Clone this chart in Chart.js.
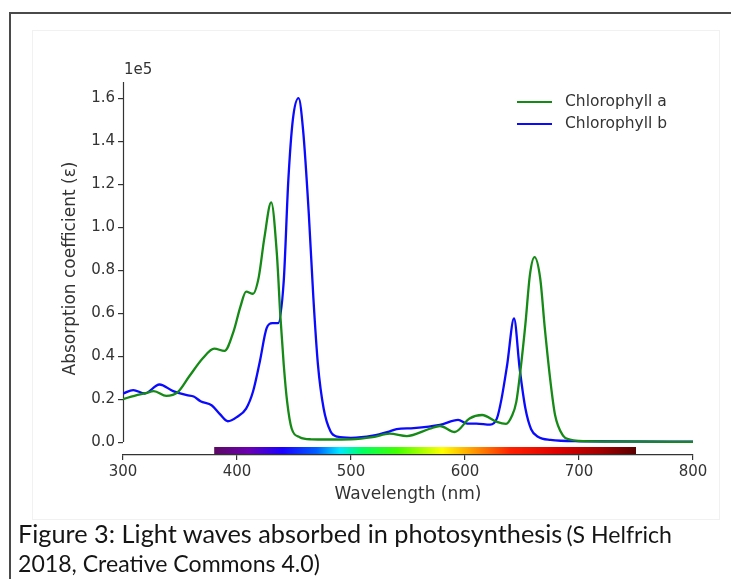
<!DOCTYPE html>
<html>
<head>
<meta charset="utf-8">
<script src="https://cdn.jsdelivr.net/npm/chart.js@4.4.1/dist/chart.umd.min.js"></script>
<style>
  html, body { margin: 0; padding: 0; background: #fff; }
  body { width: 731px; height: 579px; position: relative; overflow: hidden; }
  #frame { position: absolute; left: 9px; top: 12px; width: 760px; height: 620px; border: 2px solid #4a4a4a; box-sizing: border-box; }
  #inner { position: absolute; left: 32px; top: 30px; width: 686px; height: 488px; border: 1px solid #f1f1f1; }
  #wrap { position: absolute; left: 0; top: 0; width: 731px; height: 520px; }
  #caption { position: absolute; left: 18px; top: 520px; font-family: Lato, "Open Sans", sans-serif; color: #151515; line-height: 27px; white-space: nowrap; }
  #caption .big { font-size: 22px; }
  #caption .small { font-size: 17.5px; }
</style>
</head>
<body>
<div id="frame"></div>
<div id="inner"></div>
<div id="wrap"><canvas id="spectrum" width="731" height="520"></canvas></div>
<div id="caption">
  <span class="big" data-w="545">Figure 3: Light waves absorbed in photosynthesis</span> <span class="small">(S Helfrich</span><br>
  <span class="small" data-w="302">2018, Creative Commons 4.0)</span>
</div>
<script>
// wavelength (nm) and absorption (x1e5)
const chlAWavelength = [300, 310, 320, 327, 338, 348, 358, 370, 380, 389, 397, 403, 408, 414, 419, 424, 430, 435, 438, 441, 444, 448, 455, 465, 480, 500, 519, 534, 549, 569, 578, 591, 604, 615, 628, 636, 641, 645, 649, 653, 657, 661, 666, 670, 675, 679, 686, 692, 700, 750, 800];
const chlA = [0.200, 0.215, 0.228, 0.237, 0.215, 0.232, 0.305, 0.39, 0.435, 0.424, 0.515, 0.63, 0.70, 0.69, 0.765, 0.95, 1.115, 0.873, 0.59, 0.36, 0.187, 0.062, 0.023, 0.013, 0.012, 0.013, 0.023, 0.039, 0.028, 0.062, 0.075, 0.047, 0.11, 0.126, 0.094, 0.085, 0.12, 0.187, 0.35, 0.55, 0.78, 0.86, 0.76, 0.53, 0.28, 0.126, 0.03, 0.012, 0.006, 0.002, 0.001];

const chlBWavelength = [300, 309, 319, 332, 344, 356, 362, 368, 378, 385, 392, 400, 408, 414, 420, 426, 431, 436, 441, 445, 449, 454, 458, 463, 467, 471, 476, 482, 488, 500, 519, 534, 540, 555, 578, 594, 602, 610, 622, 628, 632, 637, 643, 648, 653, 658, 664, 675, 700, 800];
const chlB = [0.226, 0.242, 0.226, 0.268, 0.237, 0.218, 0.212, 0.19, 0.17, 0.13, 0.097, 0.117, 0.156, 0.234, 0.374, 0.53, 0.553, 0.553, 0.75, 1.216, 1.50, 1.60, 1.45, 1.06, 0.67, 0.36, 0.156, 0.05, 0.025, 0.02, 0.03, 0.05, 0.06, 0.065, 0.08, 0.103, 0.086, 0.086, 0.081, 0.11, 0.2, 0.36, 0.575, 0.34, 0.156, 0.06, 0.025, 0.01, 0.004, 0.002];

const seriesNames = ['Chlorophyll a', 'Chlorophyll b'];
const xTicks = [300, 400, 500, 600, 700, 800];
const yTicks = [0, 0.2, 0.4, 0.6, 0.8, 1.0, 1.2, 1.4, 1.6];

// visible-light colour bar under the curves
const spectrumStops = [
  [380, '#5c0a62'], [410, '#6a00b0'], [440, '#1a00ff'], [470, '#0060ff'], [490, '#00e8ff'],
  [510, '#00ff60'], [540, '#40ff00'], [580, '#ffff00'], [610, '#ff9000'], [640, '#ff2000'],
  [680, '#e00000'], [720, '#a00000'], [750, '#5a0000']
];

const FONT = 'DejaVu Sans';
const INK = '#333';

function pts(xs, ys) { return xs.map((x, i) => ({ x: x, y: ys[i] })); }

const extras = {
  id: 'extras',
  beforeDatasetsDraw(chart) {
    const { ctx, chartArea: a, scales: { x, y } } = chart;
    const x0 = x.getPixelForValue(spectrumStops[0][0]);
    const x1 = x.getPixelForValue(spectrumStops[spectrumStops.length - 1][0]);
    const g = ctx.createLinearGradient(x0, 0, x1, 0);
    spectrumStops.forEach(s => g.addColorStop((s[0] - 380) / 370, s[1]));
    ctx.save();
    ctx.fillStyle = g;
    ctx.fillRect(x0, a.bottom - 8, x1 - x0, 7);
    // y spine only down to zero, like the original
    ctx.strokeStyle = INK;
    ctx.lineWidth = 1.2;
    ctx.beginPath();
    const sx = Math.round(a.left) + 0.5;
    ctx.moveTo(sx, a.top);
    ctx.lineTo(sx, y.getPixelForValue(0));
    ctx.stroke();
    ctx.restore();
  },
  afterDraw(chart) {
    const { ctx, chartArea: a } = chart;
    ctx.save();
    ctx.font = '15px "' + FONT + '"';
    ctx.fillStyle = INK;
    ctx.textBaseline = 'middle';
    ctx.fillText('1e5', a.left + 1, a.top - 12);
    ctx.font = '15.5px "' + FONT + '"';
    chart.data.datasets.forEach((ds, i) => {
      const ly = a.top + 20 + i * 22;
      ctx.strokeStyle = ds.borderColor;
      ctx.lineWidth = 2;
      ctx.beginPath();
      ctx.moveTo(a.right - 176, ly);
      ctx.lineTo(a.right - 141, ly);
      ctx.stroke();
      ctx.fillText(ds.label, a.right - 128, ly);
    });
    ctx.restore();
  }
};

new Chart(document.getElementById('spectrum'), {
  type: 'line',
  data: {
    datasets: [
      { label: seriesNames[0], data: pts(chlAWavelength, chlA), borderColor: '#168a16', borderWidth: 2.3, pointRadius: 0, cubicInterpolationMode: 'monotone', fill: false },
      { label: seriesNames[1], data: pts(chlBWavelength, chlB), borderColor: '#0a0aff', borderWidth: 2.3, pointRadius: 0, cubicInterpolationMode: 'monotone', fill: false }
    ]
  },
  options: {
    responsive: false,
    animation: false,
    layout: { padding: { left: 0, right: 38, top: 82, bottom: 0 } },
    plugins: { legend: { display: false }, tooltip: { enabled: false } },
    scales: {
      x: {
        type: 'linear', min: 300, max: 800,
        afterBuildTicks: s => { s.ticks = xTicks.map(v => ({ value: v })); },
        afterFit: s => { s.height = 65; },
        border: { display: true, color: INK, width: 1.2 },
        grid: { drawOnChartArea: false, tickLength: 5, color: INK, lineWidth: 1.2 },
        ticks: { color: INK, font: { family: FONT, size: 15 }, padding: 3 },
        title: { display: true, text: 'Wavelength (nm)', color: INK, font: { family: FONT, size: 17 }, padding: { top: 0, bottom: 15 } }
      },
      y: {
        type: 'linear', min: -0.06, max: 1.675,
        afterBuildTicks: s => { s.ticks = yTicks.map(v => ({ value: v })); },
        afterFit: s => { s.width = 123; },
        border: { display: false },
        grid: { drawOnChartArea: false, tickLength: 5, color: INK, lineWidth: 1.2 },
        ticks: { color: INK, font: { family: FONT, size: 15 }, padding: 3, callback: v => v.toFixed(1) },
        title: { display: true, text: 'Absorption coefficient (\u03b5)', color: INK, font: { family: FONT, size: 17 }, padding: { top: 60, bottom: 0 } }
      }
    }
  },
  plugins: [extras]
});

// fit caption spans to the widths they have in the original
const mc = document.createElement('canvas').getContext('2d');
let smallSize = null;
document.querySelectorAll('#caption span[data-w]').forEach(sp => {
  const cs = getComputedStyle(sp);
  mc.font = cs.fontSize + ' ' + cs.fontFamily;
  const w = mc.measureText(sp.textContent).width;
  const size = (parseFloat(cs.fontSize) * sp.dataset.w / w).toFixed(2) + 'px';
  sp.style.fontSize = size;
  if (sp.classList.contains('small')) smallSize = size;
});
document.querySelectorAll('#caption .small').forEach(sp => { sp.style.fontSize = smallSize; });
</script>
</body>
</html>
